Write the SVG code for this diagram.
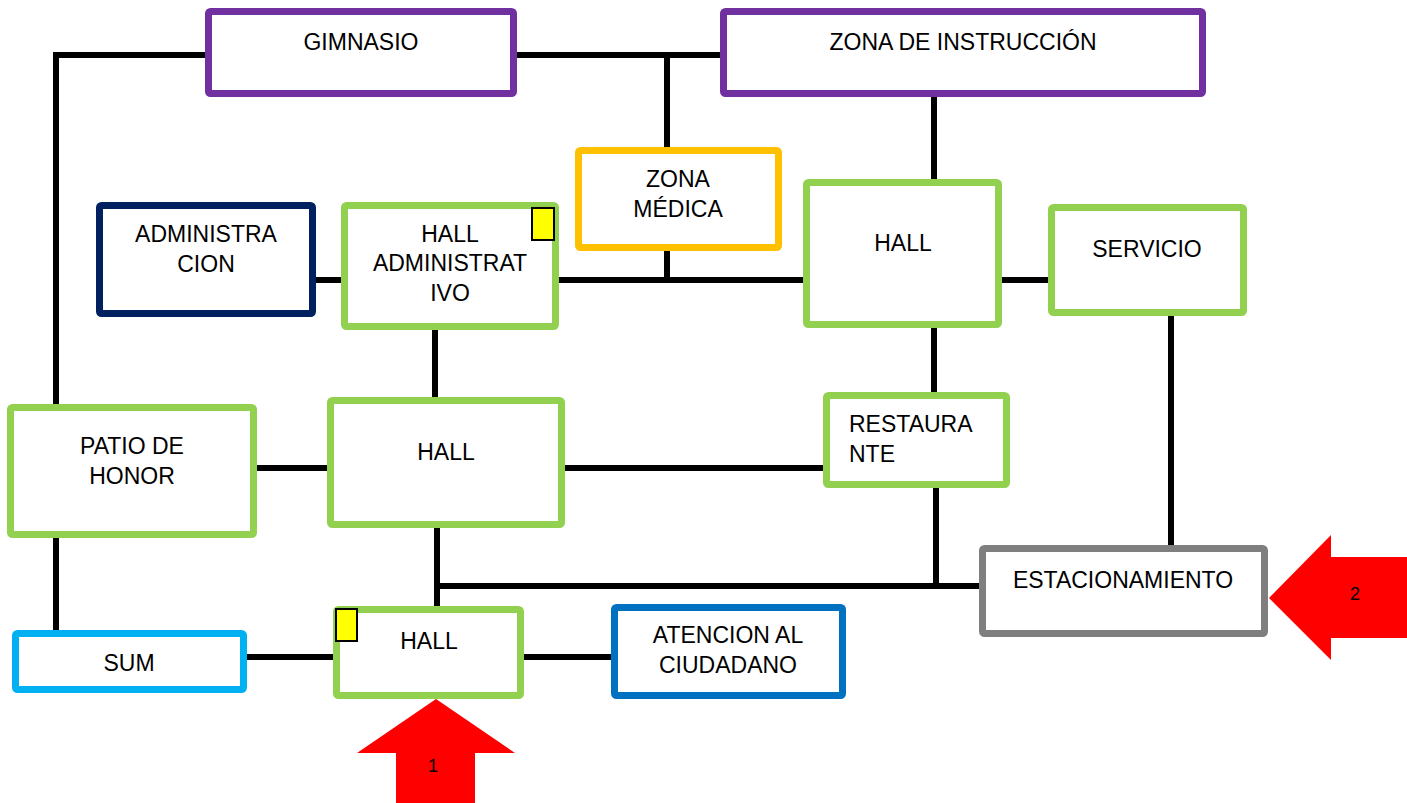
<svg xmlns="http://www.w3.org/2000/svg" width="1407" height="803" viewBox="0 0 1407 803">
<style>
.box{fill:#fff;stroke-width:7;}
.g{stroke:#92D050}.p{stroke:#7030A0}.o{stroke:#FFC000}.n{stroke:#002060}.lb{stroke:#00B0F0}.b{stroke:#0070C0}.gr{stroke:#7F7F7F}
.t{font-family:"Liberation Sans",Arial,sans-serif;font-size:23px;fill:#000;text-anchor:middle}
.tl{text-anchor:start}
.num{font-family:"Liberation Sans",Arial,sans-serif;font-size:18px;fill:#000;text-anchor:middle}
.c{fill:none;stroke:#000;stroke-width:6}
.flag{fill:#FFFF00;stroke:#000;stroke-width:2}
.arrow{fill:#FF0000}
</style>
<rect width="1407" height="803" fill="#fff"/>
<g id="connectors">
<path class="c" d="M56,630 V55 H205"/>
<path class="c" d="M517,55 H720"/>
<path class="c" d="M667,55 V147"/>
<path class="c" d="M667,251 V280"/>
<path class="c" d="M316,280 H341"/>
<path class="c" d="M559,280 H803"/>
<path class="c" d="M934,97 V179"/>
<path class="c" d="M1002,280 H1048"/>
<path class="c" d="M1171,316 V545"/>
<path class="c" d="M934,328 V392"/>
<path class="c" d="M435,330 V397"/>
<path class="c" d="M257,468 H823"/>
<path class="c" d="M936,488 V586"/>
<path class="c" d="M437,528 V606"/>
<path class="c" d="M434,586 H979"/>
<path class="c" d="M247,657 H333"/>
<path class="c" d="M524,657 H611"/>
</g>
<g id="gimnasio"><rect class="box p" x="208.5" y="11.5" width="305" height="82" rx="2"/><text class="t" x="361" y="50">GIMNASIO</text></g>
<g id="zona-instruccion"><rect class="box p" x="723.5" y="11.5" width="479" height="82" rx="2"/><text class="t" x="963" y="50">ZONA DE INSTRUCCIÓN</text></g>
<g id="zona-medica"><rect class="box o" x="578.5" y="150.5" width="200" height="97" rx="2"/><text class="t" x="678" y="187">ZONA</text><text class="t" x="678" y="217">MÉDICA</text></g>
<g id="administracion"><rect class="box n" x="99.5" y="205.5" width="213" height="108" rx="2"/><text class="t" x="206" y="242">ADMINISTRA</text><text class="t" x="206" y="272">CION</text></g>
<g id="hall-administrativo"><rect class="box g" x="344.5" y="205.5" width="211" height="121" rx="2"/><text class="t" x="450" y="242">HALL</text><text class="t" x="450" y="271">ADMINISTRAT</text><text class="t" x="450" y="301">IVO</text><rect class="flag" x="532" y="208" width="22" height="32"/></g>
<g id="hall-norte"><rect class="box g" x="806.5" y="182.5" width="192" height="142" rx="2"/><text class="t" x="903" y="251">HALL</text></g>
<g id="servicio"><rect class="box g" x="1051.5" y="207.5" width="192" height="105" rx="2"/><text class="t" x="1147" y="257">SERVICIO</text></g>
<g id="patio-de-honor"><rect class="box g" x="10.5" y="407.5" width="243" height="127" rx="2"/><text class="t" x="132" y="454">PATIO DE</text><text class="t" x="132" y="484">HONOR</text></g>
<g id="hall-central"><rect class="box g" x="330.5" y="400.5" width="231" height="124" rx="2"/><text class="t" x="446" y="460">HALL</text></g>
<g id="restaurante"><rect class="box g" x="826.5" y="395.5" width="180" height="89" rx="2"/><text class="t tl" x="849" y="432">RESTAURA</text><text class="t tl" x="849" y="462">NTE</text></g>
<g id="estacionamiento"><rect class="box gr" x="982.5" y="548.5" width="282" height="85" rx="2"/><text class="t" x="1123" y="588">ESTACIONAMIENTO</text></g>
<g id="sum"><rect class="box lb" x="15.5" y="633.5" width="228" height="56" rx="2"/><text class="t" x="129" y="671">SUM</text></g>
<g id="hall-acceso"><rect class="box g" x="336.5" y="609.5" width="184" height="86" rx="2"/><text class="t" x="429" y="649">HALL</text><rect class="flag" x="336" y="609" width="21" height="32"/></g>
<g id="atencion-ciudadano"><rect class="box b" x="614.5" y="607.5" width="228" height="88" rx="2"/><text class="t" x="728" y="643">ATENCION AL</text><text class="t" x="728" y="673">CIUDADANO</text></g>
<g id="acceso-1"><polygon class="arrow" points="436,699 515,753 475,753 475,803 396,803 396,753 357,753"/><text class="num" x="433" y="772">1</text></g>
<g id="acceso-2"><polygon class="arrow" points="1269,598 1331,535 1331,557 1407,557 1407,638 1331,638 1331,660"/><text class="num" x="1355" y="600">2</text></g>
</svg>
